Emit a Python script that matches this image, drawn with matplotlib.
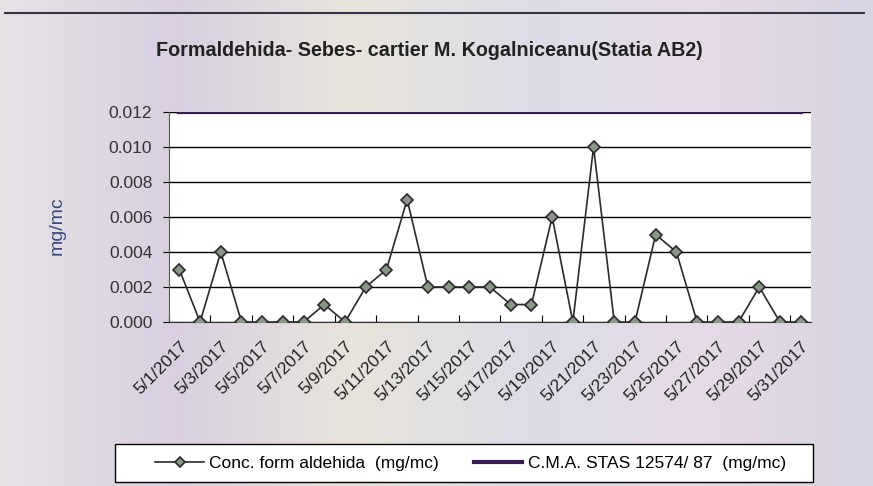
import numpy as np
import matplotlib
matplotlib.use("Agg")
import matplotlib.pyplot as plt
from matplotlib.colors import LinearSegmentedColormap
from matplotlib.patches import Rectangle

zile = ["5/%d/2017" % d for d in range(1, 32)]
conc_formaldehida = [0.003, 0.000, 0.004, 0.000, 0.000, 0.000, 0.000, 0.001, 0.000, 0.002,
                     0.003, 0.007, 0.002, 0.002, 0.002, 0.002, 0.001, 0.001, 0.006, 0.000,
                     0.010, 0.000, 0.000, 0.005, 0.004, 0.000, 0.000, 0.000, 0.002, 0.000,
                     0.000]
cma_stas = [0.012] * 31
y_ticks = [0.000, 0.002, 0.004, 0.006, 0.008, 0.010, 0.012]

plt.rcParams['font.family'] = ['Liberation Sans', 'DejaVu Sans']

fig = plt.figure(figsize=(8.73, 4.86), dpi=100)

# fundal pastel (scanat)
bg = fig.add_axes([0, 0, 1, 1], zorder=-10)
culori = LinearSegmentedColormap.from_list("fundal", ["#e6e2e6", "#d9cfe0", "#e8e4dc", "#dcdde6", "#e6dbe6", "#d8d4e2"])
bg.imshow(np.linspace(0, 1, 200).reshape(1, -1), aspect="auto", cmap=culori, extent=[0, 1, 0, 1])
bg.set_xlim(0, 1)
bg.set_ylim(0, 1)
bg.plot([0.006, 0.99], [0.974, 0.974], color="#333344", lw=1.5)
# chenarul legendei
bg.add_patch(Rectangle((115 / 873, 1 - 482 / 486), 698 / 873, 38 / 486,
                       facecolor="white", edgecolor="black", lw=1))
bg.axis("off")

ax = fig.add_axes([0.1936, 0.3374, 0.7354, 0.4321])
ax.set_facecolor("white")
x = np.arange(len(zile))

ax.plot(x, cma_stas, color="#3a1a55", lw=3, label="C.M.A. STAS 12574/ 87  (mg/mc)", zorder=3)
ax.plot(x, conc_formaldehida, color="#2a2a2a", lw=1.2, marker="D", markersize=6,
        markerfacecolor="#8a9688", markeredgecolor="#2a2a2a", markeredgewidth=1.2,
        label="Conc. form aldehida  (mg/mc)", zorder=4)

ax.set_xlim(-0.5, len(zile) - 0.5)
ax.set_ylim(0, 0.012)
ax.set_yticks(y_ticks)
ax.set_yticklabels(["%.3f" % v for v in y_ticks], fontsize=12.5, color="#333333")
ax.yaxis.grid(True, color="black", lw=1)
ax.set_axisbelow(True)

ax.set_xticks(np.arange(-0.5, len(zile), 2))
ax.set_xticklabels([])
ax.set_xticks(x[::2], minor=True)
ax.set_xticklabels(zile[::2], minor=True, rotation=45, ha="right", va="top",
                   rotation_mode="anchor", fontsize=12.5, color="#222222")
ax.tick_params(axis="x", which="minor", length=0, pad=12)
ax.tick_params(axis="x", which="major", length=5, direction="in", color="black")
ax.tick_params(axis="y", length=4, direction="out", pad=8)

for s in ["top", "right"]:
    ax.spines[s].set_visible(False)
ax.spines["left"].set_color("#555555")
ax.spines["bottom"].set_color("#333333")

fig.text(57 / 873, 1 - 226 / 486, "mg/mc", rotation=90, ha="center", va="center",
         fontsize=14, color="#3a4a80")

fig.text(0.492, 0.897, "Formaldehida- Sebes- cartier M. Kogalniceanu(Statia AB2)",
         ha="center", va="center", fontsize=14.2, fontweight="bold", color="#222222")

h, l = ax.get_legend_handles_labels()
leg = fig.legend(h[::-1], l[::-1], ncol=2, loc="center",
                 bbox_to_anchor=(0.539, 1 - 463 / 486), fontsize=12.5, frameon=False,
                 handlelength=2.8, handletextpad=0.3, columnspacing=2.0, markerscale=0.8)

fig.savefig("out.png", dpi=100)
